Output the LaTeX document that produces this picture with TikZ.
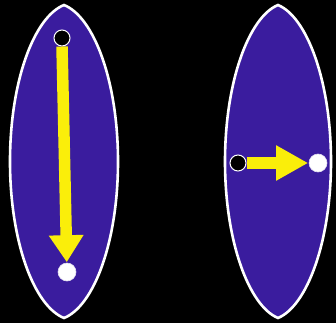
\documentclass[tikz,border=0pt]{standalone}
\usetikzlibrary{arrows.meta}
\definecolor{lensblue}{RGB}{58,28,158}
\definecolor{arrowyellow}{RGB}{250,238,10}
\begin{document}
\begin{tikzpicture}[x=1pt,y=-1pt,
  lens/.style={fill=lensblue,draw=white,line width=2.6pt},
  startdot/.style={circle,fill=black,draw=white,line width=1pt,minimum size=16pt,inner sep=0pt},
  enddot/.style={circle,fill=white,draw=white!85!lensblue,line width=0.6pt,minimum size=18pt,inner sep=0pt},
  bigarrow/.style={draw=arrowyellow,line width=11.5pt,-{Triangle[width=33pt,length=27pt,fill=arrowyellow]},shorten >=0.5pt}
]
\fill[black] (0,0) rectangle (336,323);
\useasboundingbox (0,0) rectangle (336,323);
% left lens
\draw[lens] (64,5) .. controls (94,17) and (118,81.5) .. (118,161.5)
  .. controls (118,241.5) and (94,306) .. (64,318)
  .. controls (34,306) and (10,241.5) .. (10,161.5)
  .. controls (10,81.5) and (34,17) .. (64,5) -- cycle;
% right lens
\draw[lens] (278,5) .. controls (307,17) and (331,81.5) .. (331,161.5)
  .. controls (331,241.5) and (307,306) .. (278,318)
  .. controls (249,306) and (225,241.5) .. (225,161.5)
  .. controls (225,81.5) and (249,17) .. (278,5) -- cycle;
% left dots and arrow
\node[startdot] (ls) at (62,38) {};
\node[enddot] (le) at (67,272) {};
\draw[bigarrow] (ls.south) -- (le);
% right dots and arrow
\node[startdot] (rs) at (238,163) {};
\node[enddot] (re) at (318,163) {};
\draw[bigarrow,-{Triangle[width=33pt,length=32pt,fill=arrowyellow]}] (rs.east) -- (re);
\end{tikzpicture}
\end{document}
